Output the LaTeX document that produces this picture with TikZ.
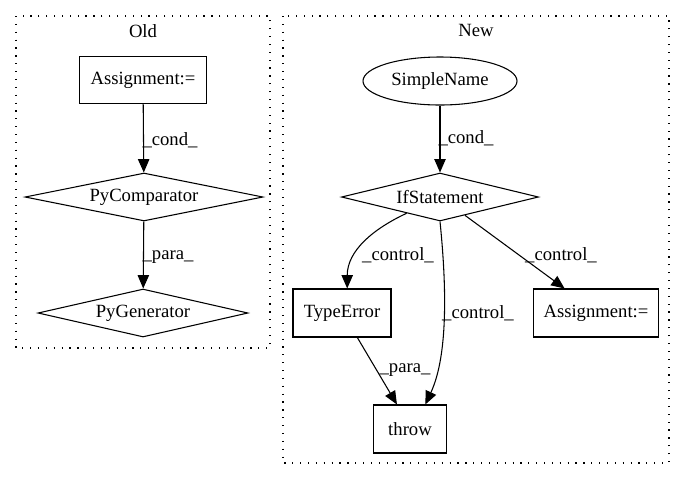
\documentclass[tikz,border=0pt]{standalone}
\usepackage{fontspec}
\setmainfont{Liberation Serif}
\usetikzlibrary{shapes.geometric,arrows.meta}
\begin{document}
\begin{tikzpicture}[x=0.75pt,y=-0.75pt,
  font=\fontsize{14}{16}\selectfont,
  base/.style={draw, inner sep=0pt, line width=0.8pt},
  box/.style={base, rectangle, minimum height=36pt},
  dia/.style={base, diamond, aspect=6, minimum height=36pt},
  oval/.style={base, ellipse, minimum height=36pt},
  edge/.style={line width=0.8pt, -{Triangle[length=10pt,width=8.5pt]}},
  lbl/.style={inner sep=0pt},
  cluster/.style={draw, line width=0.9pt, dash pattern=on 0.9pt off 5pt}]
\useasboundingbox (0,0) rectangle (685,480);
% clusters
\draw[cluster] (16,16) rectangle (270,348);
\draw[cluster] (283,16) rectangle (669,463);
\node[lbl] (oldt) at (143,31) {Old};
\node[lbl] (newt) at (476,30) {New};
% old nodes
\node[box, minimum width=95.25pt, minimum height=35.25pt] (oa) at (143,80) {Assignment:=};
\node[dia, minimum width=178.5pt] (pc) at (144,197) {PyComparator};
\node[dia, minimum width=157.5pt] (pg) at (143,313) {PyGenerator};
% new nodes
\node[oval, minimum width=115.5pt] (sn) at (440,81) {SimpleName};
\node[dia, minimum width=147.75pt] (if) at (440,197) {IfStatement};
\node[box, minimum width=73.5pt] (te) at (342,313) {TypeError};
\node[box, minimum width=93.75pt] (na) at (596,313) {Assignment:=};
\node[box, minimum width=54.75pt] (th) at (410,429) {throw};
% old edges
\draw[edge] (oa) -- (pc);
\draw[edge] (pc) -- (pg);
\node[lbl] (l1) at (170,140) {\_cond\_};
\node[lbl] (l2) at (168,257) {\_para\_};
% new edges
\draw[edge] (sn) -- (if);
\draw[edge] (if.206) to[out=205, in=90] (te.78);
\draw[edge] (if.south) .. controls (448,300) and (446,360) .. (th.58);
\draw[edge] (if) -- (na.142);
\draw[edge] (te.-58) -- (th.118);
\node[lbl] (l3) at (466,138) {\_cond\_};
\node[lbl] (l4) at (398,255) {\_control\_};
\node[lbl] (l5) at (478,313) {\_control\_};
\node[lbl] (l6) at (561,255) {\_control\_};
\node[lbl] (l7) at (405,370) {\_para\_};
\end{tikzpicture}
\end{document}
